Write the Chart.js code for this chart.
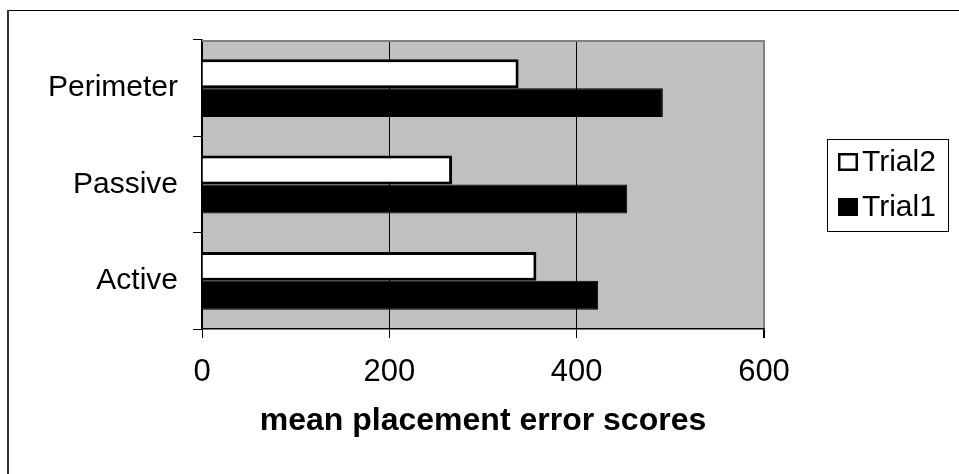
<!DOCTYPE html>
<html lang="en">
<head>
<meta charset="UTF-8">
<title>mean placement error scores</title>
<style>
  body { margin: 0; background: #fff; }
  #wrap { width: 959px; height: 474px; }
</style>
</head>
<body>
<script src="https://cdn.jsdelivr.net/npm/chart.js"></script>
<div id="wrap"><canvas id="myChart" width="959" height="474"></canvas></div>
<script>
const categories = ["Perimeter", "Passive", "Active"];
const trial2 = [338, 267, 357];
const trial1 = [492, 454, 423];
const xTicks = [0, 200, 400, 600];
const seriesNames = ["Trial2", "Trial1"];

const FONT = "'Liberation Sans', Arial, sans-serif";

// frame, grey plot area and the boxed legend on the right
const chartDecor = {
  id: "chartDecor",
  beforeDraw(chart) {
    const ctx = chart.ctx;
    const a = chart.chartArea;
    ctx.save();
    ctx.fillStyle = "#fff";
    ctx.fillRect(0, 0, chart.width, chart.height);
    ctx.strokeStyle = "#000";
    ctx.lineWidth = 1;
    ctx.beginPath();
    ctx.moveTo(7, 10.5);
    ctx.lineTo(chart.width, 10.5);
    ctx.stroke();
    ctx.strokeStyle = "#333";
    ctx.lineWidth = 2;
    ctx.beginPath();
    ctx.moveTo(8, 10);
    ctx.lineTo(8, chart.height);
    ctx.stroke();
    ctx.fillStyle = "#c0c0c0";
    ctx.fillRect(a.left, a.top, a.right - a.left, a.bottom - a.top);
    ctx.restore();
  },
  afterDatasetsDraw(chart) {
    const ctx = chart.ctx;
    const a = chart.chartArea;
    ctx.save();
    ctx.strokeStyle = "#808080";
    ctx.lineWidth = 2;
    ctx.beginPath();
    ctx.moveTo(a.left, a.top + 1);
    ctx.lineTo(a.right, a.top + 1);
    ctx.stroke();
    ctx.restore();
  },
  afterDraw(chart) {
    const ctx = chart.ctx;
    ctx.save();
    ctx.strokeStyle = "#000";
    ctx.lineWidth = 1;
    ctx.strokeRect(827.5, 139.5, 121, 92);
    ctx.font = "30px " + FONT;
    ctx.textBaseline = "middle";
    ctx.textAlign = "left";
    chart.data.datasets.forEach(function (ds, i) {
      const cy = 162 + i * 45;
      ctx.fillStyle = ds.backgroundColor;
      ctx.fillRect(838, cy - 9, 20, 18);
      ctx.strokeStyle = "#000";
      ctx.lineWidth = 2.5;
      ctx.strokeRect(839.25, cy - 7.75, 17.5, 15.5);
      ctx.fillStyle = "#000";
      ctx.fillText(ds.label, 862, cy + 1);
    });
    ctx.restore();
  },
};

const data = {
  labels: categories,
  datasets: [
    {
      label: seriesNames[0],
      data: trial2,
      backgroundColor: "#ffffff",
      borderColor: "#000000",
      borderWidth: 3,
      categoryPercentage: 0.6,
      barPercentage: 1,
    },
    {
      label: seriesNames[1],
      data: trial1,
      backgroundColor: "#000000",
      borderColor: "#000000",
      borderWidth: 1,
      categoryPercentage: 0.6,
      barPercentage: 1,
    },
  ],
};

const config = {
  type: "bar",
  data: data,
  plugins: [chartDecor],
  options: {
    indexAxis: "y",
    responsive: false,
    animation: false,
    devicePixelRatio: 1,
    layout: { padding: { top: 40, right: 195, bottom: 0, left: 0 } },
    plugins: {
      legend: { display: false },
      tooltip: { enabled: false },
    },
    scales: {
      y: {
        afterFit: function (scale) { scale.width = 202; },
        grid: {
          drawOnChartArea: false,
          tickLength: 9,
          color: "#000",
        },
        border: { color: "#000", width: 1.5 },
        ticks: {
          padding: 15,
          color: "#000",
          font: { family: FONT, size: 30 },
        },
      },
      x: {
        min: xTicks[0],
        max: xTicks[xTicks.length - 1],
        afterFit: function (scale) { scale.height = 145; },
        afterBuildTicks: function (scale) {
          scale.ticks = xTicks.map(function (v) { return { value: v }; });
        },
        grid: {
          color: function (c) {
            return c.tick && c.tick.value === xTicks[xTicks.length - 1] ? "#808080" : "#000";
          },
          lineWidth: function (c) {
            return c.tick && c.tick.value === xTicks[xTicks.length - 1] ? 2 : 1;
          },
          tickColor: "#000",
          tickLength: 9,
        },
        border: { color: "#000", width: 1.5 },
        ticks: {
          padding: 16,
          color: "#000",
          maxRotation: 0,
          autoSkip: false,
          font: { family: FONT, size: 31 },
        },
        title: {
          display: true,
          text: "mean placement error scores",
          color: "#000",
          font: { family: FONT, size: 32, weight: "bold" },
          padding: { top: 0, bottom: 34 },
        },
      },
    },
  },
};

const myChart = new Chart(document.getElementById("myChart"), config);
</script>
</body>
</html>
